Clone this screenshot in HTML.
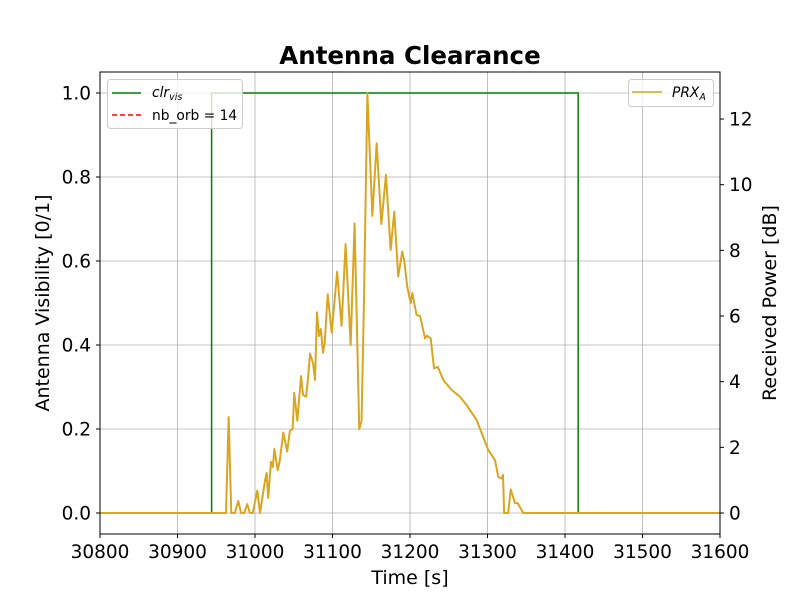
<!DOCTYPE html>
<html><head><meta charset="utf-8"><style>
body{margin:0;background:#fff;}
svg{display:block;font-family:"DejaVu Sans","Liberation Sans",sans-serif;}
</style></head><body>
<svg id="chart" width="800" height="600" viewBox="0 0 800 600">
<text x="410" y="64" text-anchor="middle" font-size="24.5" font-weight="bold">Antenna Clearance</text>
<g id="grid"></g>
<g id="series"></g>
<rect x="100" y="72" width="620" height="462" fill="none" stroke="#000" stroke-width="1"/>
<g id="axes" font-size="18.5"></g>
<text x="410" y="584" text-anchor="middle" font-size="19">Time [s]</text>
<text transform="translate(49,303) rotate(-90)" text-anchor="middle" font-size="19">Antenna Visibility [0/1]</text>
<text transform="translate(776,303) rotate(-90)" text-anchor="middle" font-size="19">Received Power [dB]</text>
<g>
<rect x="107.5" y="79.5" width="135" height="49" rx="3" fill="#fff" fill-opacity="0.8" stroke="#ccc"/>
<line x1="112" y1="93" x2="141" y2="93" stroke="green" stroke-width="1.5"/>
<text x="152" y="97" font-size="13.8" font-style="italic">clr<tspan font-size="9.5" dy="3">vis</tspan></text>
<line x1="112" y1="115" x2="141" y2="115" stroke="red" stroke-width="1.5" stroke-dasharray="5,3"/>
<text x="152" y="120" font-size="13.8">nb_orb = 14</text>
</g>
<g>
<rect x="628.5" y="79.5" width="85" height="27" rx="3" fill="#fff" fill-opacity="0.8" stroke="#ccc"/>
<line x1="632" y1="92" x2="662" y2="92" stroke="goldenrod" stroke-width="1.5"/>
<text x="672" y="97" font-size="13.8" font-style="italic">PRX<tspan font-size="9.5" dy="3">A</tspan></text>
</g>
</svg>
<script>
const xTicks=[30800,30900,31000,31100,31200,31300,31400,31500,31600];
const leftTicks=[0.0,0.2,0.4,0.6,0.8,1.0];
const rightTicks=[0,2,4,6,8,10,12];
const visTimes=[30800,30944,30944,31417,31417,31600];
const visValues=[0,0,1,1,0,0];
const prxTimes=[30800,30962.6,30966,30969.4,30974,30978.4,30982,30986,30990,30993.5,30997,31003,31006.5,31013,31015,31017,31020.6,31023,31025,31029.3,31032,31036.5,31041.5,31045,31048.6,31050.6,31054.6,31059.4,31062,31065.8,31068,31071,31075,31077.4,31080,31082.6,31085,31087.7,31090,31093.8,31099,31102,31106,31111.7,31116.9,31123.4,31128.5,31134.5,31137.5,31140.6,31145,31151.4,31157,31163,31169,31175,31179.7,31184.8,31190,31192.5,31196.5,31200.9,31203,31208.5,31213,31219.4,31222,31226.7,31231,31236,31243,31253.7,31264.5,31273,31286,31301,31309.7,31314,31318,31320,31321.5,31326.7,31330,31335.5,31339,31346,31600];
const prxValues=[0,0,2.92,0,0,0.37,0,0,0.27,0,0,0.68,0,1.0,1.22,0.46,1.56,1.4,1.95,1.3,1.6,2.45,1.87,2.5,2.56,3.66,2.81,4.17,3.6,3.54,4.0,4.86,4.55,4.05,6.11,5.39,5.6,4.88,5.2,6.66,5.49,6.3,7.35,5.7,8.19,5.12,8.82,2.55,2.8,6.5,12.78,9.05,11.26,8.8,10.3,8.01,9.18,7.2,7.96,7.7,6.89,6.39,6.7,6.03,6.0,5.32,5.4,5.32,4.41,4.45,4.05,3.75,3.54,3.29,2.83,1.92,1.61,1.1,1.05,1.16,0,0,0.72,0.3,0.3,0,0];
const X=t=>100+(t-30800)*620/800;
const YL=v=>513-v*420;
const YR=v=>513-v*32.83;
const NS='http://www.w3.org/2000/svg';
const grid=document.getElementById('grid'),axes=document.getElementById('axes'),series=document.getElementById('series');
function mk(tag,attrs,parent){const e=document.createElementNS(NS,tag);for(const k in attrs)e.setAttribute(k,attrs[k]);parent.appendChild(e);return e;}
xTicks.forEach(t=>{
 const g=mk('line',{x1:X(t),x2:X(t),y1:72,y2:534,stroke:'#b0b0b0','stroke-width':0.8},grid);
 
 
 mk('line',{x1:X(t),x2:X(t),y1:534,y2:538,stroke:'#000'},axes);
 const l=mk('text',{x:X(t),y:558,'text-anchor':'middle'},axes);l.textContent=t;
 
 
});
leftTicks.forEach(v=>{
 const g=mk('line',{x1:100,x2:720,y1:YL(v),y2:YL(v),stroke:'#b0b0b0','stroke-width':0.8},grid);
 
 
 mk('line',{x1:96,x2:100,y1:YL(v),y2:YL(v),stroke:'#000'},axes);
 const l=mk('text',{x:91,y:YL(v)+6.5,'text-anchor':'end'},axes);l.textContent=v.toFixed(1);
 
 
});
rightTicks.forEach(v=>{
 mk('line',{x1:720,x2:724,y1:YR(v),y2:YR(v),stroke:'#000'},axes);
 const l=mk('text',{x:729,y:YR(v)+6.5},axes);l.textContent=v;
 
 
});
const vis=mk('polyline',{points:visTimes.map((t,i)=>X(t)+','+YL(visValues[i])).join(' '),fill:'none',stroke:'green','stroke-width':1.5},series);


const prx=mk('polyline',{points:prxTimes.map((t,i)=>X(t)+','+YR(prxValues[i])).join(' '),fill:'none',stroke:'goldenrod','stroke-width':2,'stroke-linejoin':'round'},series);


</script>
</body></html>
